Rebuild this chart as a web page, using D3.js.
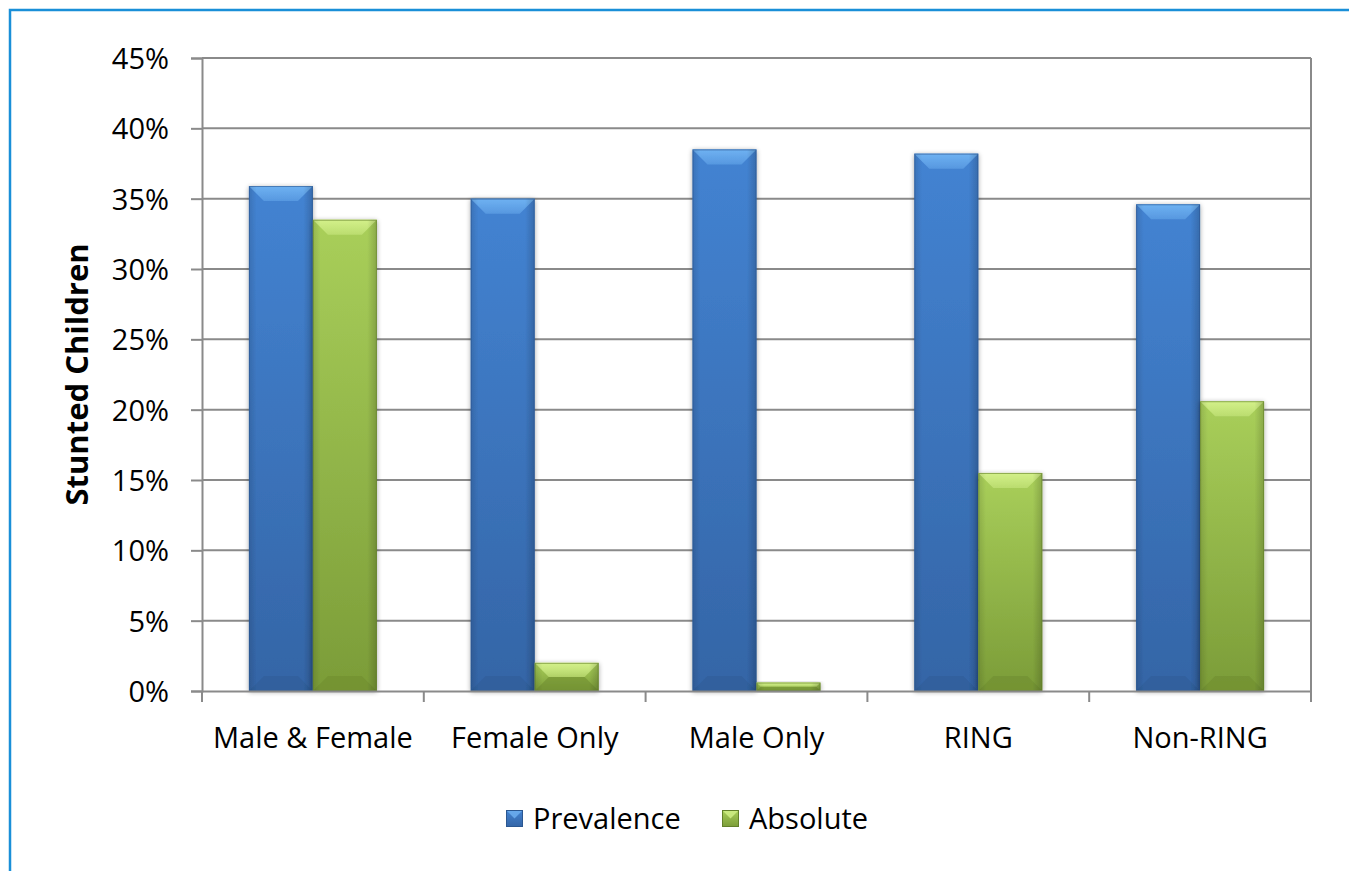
<!DOCTYPE html>
<html>
<head>
<meta charset="utf-8">
<script src="https://cdn.jsdelivr.net/npm/d3@7"></script>
<style>
html,body{margin:0;padding:0;background:#fff;}
svg{display:block;}
text{font-family:"Open Sans","Noto Sans",sans-serif;fill:#000;}
</style>
</head>
<body>
<svg id="chart" width="1349" height="871"></svg>
<script>
const categories = ["Male & Female", "Female Only", "Male Only", "RING", "Non-RING"];
const seriesNames = ["Prevalence", "Absolute"];
const prevalence = [0.359, 0.350, 0.385, 0.382, 0.346];
const absolute = [0.335, 0.020, 0.006, 0.155, 0.206];
const yTicks = [0, 0.05, 0.10, 0.15, 0.20, 0.25, 0.30, 0.35, 0.40, 0.45];
const yTitle = "Stunted Children";

const svg = d3.select("#chart");
const plot = {left: 202, right: 1311, top: 58, bottom: 691};
const FS = 29;

// frame border
svg.append("rect").attr("x", 10).attr("y", 10).attr("width", 1400).attr("height", 900)
  .attr("fill", "none").attr("stroke", "#1a8fd8").attr("stroke-width", 2.5);

const x = d3.scaleBand().domain(categories).range([plot.left, plot.right]).paddingInner(0).paddingOuter(0);
const inner = d3.scaleBand().domain(seriesNames).range([0, x.bandwidth()]).paddingInner(0).paddingOuter(0.733);
const y = d3.scaleLinear().domain([0, 0.45]).range([plot.bottom, plot.top]);

const defs = svg.append("defs");
const palettes = {
  Prevalence: {top: "#4383d2", bot: "#3465a6", bevTop: "#6fb2f2", bevBot: "#2f5d98", side: "#2b5791"},
  Absolute: {top: "#a9cf5a", bot: "#7b9c38", bevTop: "#d3f08a", bevBot: "#6f8e30", side: "#63802a"}
};
seriesNames.forEach((s, i) => {
  const p = palettes[s];
  const g = defs.append("linearGradient").attr("id", "grad" + i).attr("x1", 0).attr("y1", 0).attr("x2", 0).attr("y2", 1);
  g.append("stop").attr("offset", "0%").attr("stop-color", p.top);
  g.append("stop").attr("offset", "100%").attr("stop-color", p.bot);
  const gh = defs.append("linearGradient").attr("id", "hgrad" + i).attr("x1", 0).attr("y1", 0).attr("x2", 1).attr("y2", 0);
  gh.append("stop").attr("offset", "0%").attr("stop-color", "#000").attr("stop-opacity", 0.12);
  gh.append("stop").attr("offset", "12%").attr("stop-color", "#000").attr("stop-opacity", 0);
  gh.append("stop").attr("offset", "85%").attr("stop-color", "#000").attr("stop-opacity", 0);
  gh.append("stop").attr("offset", "100%").attr("stop-color", "#000").attr("stop-opacity", 0.18);
  const gb = defs.append("linearGradient").attr("id", "bev" + i).attr("x1", 0).attr("y1", 0).attr("x2", 0).attr("y2", 1);
  gb.append("stop").attr("offset", "0%").attr("stop-color", p.bevTop).attr("stop-opacity", 1);
  gb.append("stop").attr("offset", "100%").attr("stop-color", p.bevTop).attr("stop-opacity", 0.45);
});
const shadow = defs.append("filter").attr("id", "shadow").attr("x", "-20%").attr("y", "-20%").attr("width", "140%").attr("height", "140%");
shadow.append("feGaussianBlur").attr("in", "SourceAlpha").attr("stdDeviation", 2.5).attr("result", "b");
shadow.append("feOffset").attr("in", "b").attr("dx", 0).attr("dy", 1).attr("result", "o");
shadow.append("feComponentTransfer").attr("in", "o").attr("result", "o2")
  .append("feFuncA").attr("type", "linear").attr("slope", 0.35);
const fm = shadow.append("feMerge");
fm.append("feMergeNode").attr("in", "o2");
fm.append("feMergeNode").attr("in", "SourceGraphic");

// gridlines
svg.append("g").selectAll("line").data(yTicks.filter(d => d > 0)).join("line")
  .attr("x1", plot.left).attr("x2", plot.right)
  .attr("y1", d => y(d)).attr("y2", d => y(d))
  .attr("stroke", "#8a8a8a").attr("stroke-width", 2);
svg.append("line").attr("x1", plot.right).attr("x2", plot.right).attr("y1", plot.top).attr("y2", plot.bottom)
  .attr("stroke", "#8a8a8a").attr("stroke-width", 2);

function bevelBar(g, x0, y0, w, h, i) {
  const p = palettes[seriesNames[i]];
  const b = Math.min(15, h / 2, w / 2);
  const grp = g.append("g").attr("filter", "url(#shadow)");
  grp.append("rect").attr("x", x0).attr("y", y0).attr("width", w).attr("height", h).attr("fill", "url(#grad" + i + ")");
  grp.append("polygon").attr("points", [[x0, y0], [x0 + w, y0], [x0 + w - b, y0 + b], [x0 + b, y0 + b]].map(d => d.join(",")).join(" "))
    .attr("fill", "url(#bev" + i + ")");
  grp.append("polygon").attr("points", [[x0, y0 + h], [x0 + w, y0 + h], [x0 + w - b, y0 + h - b], [x0 + b, y0 + h - b]].map(d => d.join(",")).join(" "))
    .attr("fill", p.bevBot).attr("opacity", 0.6);
  grp.append("rect").attr("x", x0).attr("y", y0).attr("width", w).attr("height", h).attr("fill", "url(#hgrad" + i + ")");
  grp.append("rect").attr("x", x0 + 0.5).attr("y", y0 + 0.5).attr("width", w - 1).attr("height", h - 1)
    .attr("fill", "none").attr("stroke", p.side).attr("stroke-opacity", 0.6).attr("stroke-width", 1);
}

const barsG = svg.append("g");
categories.forEach((c, ci) => {
  [prevalence, absolute].forEach((arr, si) => {
    const x0 = x(c) + inner(seriesNames[si]);
    const w = inner.bandwidth();
    const y0 = y(arr[ci]);
    bevelBar(barsG, x0, y0, w, y(0) - y0, si);
  });
});

// y axis
const yAxis = svg.append("g").attr("transform", `translate(${plot.left},0)`)
  .call(d3.axisLeft(y).tickValues(yTicks).tickFormat(d3.format(".0%")).tickSize(11).tickPadding(22));
yAxis.select(".domain").attr("stroke", "#8a8a8a").attr("stroke-width", 2);
yAxis.selectAll(".tick line").attr("stroke", "#8a8a8a").attr("stroke-width", 2);
yAxis.selectAll(".tick text").attr("font-size", FS).attr("fill", "#000")
  .attr("font-family", '"Open Sans","Noto Sans",sans-serif').attr("dy", "0.36em");

// x axis
const xAxis = svg.append("g").attr("transform", `translate(0,${plot.bottom})`)
  .call(d3.axisBottom(x).tickSize(0).tickPadding(36));
xAxis.select(".domain").attr("stroke", "#8a8a8a").attr("stroke-width", 2);
xAxis.selectAll(".tick text").attr("font-size", FS).attr("fill", "#000")
  .attr("font-family", '"Open Sans","Noto Sans",sans-serif');
const bounds = categories.map(c => x(c)).concat([x(categories[categories.length - 1]) + x.bandwidth()]);
svg.append("g").selectAll("line").data(bounds).join("line")
  .attr("x1", d => d).attr("x2", d => d).attr("y1", plot.bottom).attr("y2", plot.bottom + 11)
  .attr("stroke", "#8a8a8a").attr("stroke-width", 2);

// y title
svg.append("text").attr("transform", `translate(88,${(plot.top + plot.bottom) / 2}) rotate(-90)`)
  .attr("text-anchor", "middle").attr("font-size", 31).attr("font-weight", "bold").text(yTitle);

// legend
const legend = svg.append("g");
const legendX = [506, 722];
seriesNames.forEach((s, i) => {
  const lg = legend.append("g");
  const p = palettes[s];
  const sx = legendX[i], sy = 810, sz = 17;
  lg.append("rect").attr("x", sx).attr("y", sy).attr("width", sz).attr("height", sz).attr("fill", "url(#grad" + i + ")");
  lg.append("polygon").attr("points", [[sx, sy], [sx + sz, sy], [sx + sz / 2, sy + sz / 2]].map(d => d.join(",")).join(" "))
    .attr("fill", p.bevTop).attr("opacity", 0.8);
  lg.append("rect").attr("x", sx + 0.5).attr("y", sy + 0.5).attr("width", sz - 1).attr("height", sz - 1)
    .attr("fill", "none").attr("stroke", p.side).attr("stroke-width", 1);
  lg.append("text").attr("x", sx + sz + 10).attr("y", sy + sz / 2).attr("dy", "0.36em")
    .attr("font-size", FS).text(s);
});
</script>
</body>
</html>
